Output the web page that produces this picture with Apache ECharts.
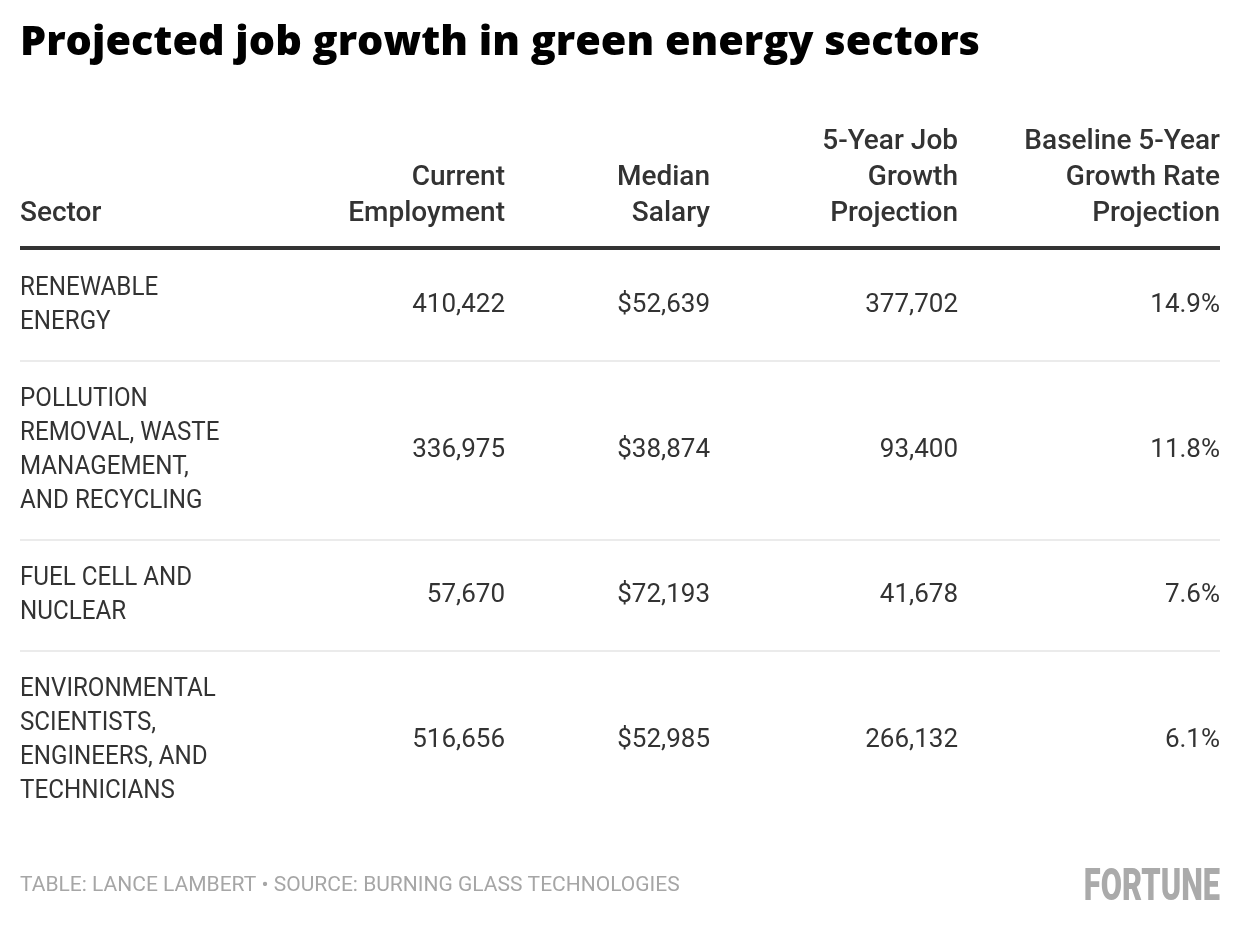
<!DOCTYPE html>
<html>
<head>
<meta charset="utf-8">
<script src="https://cdn.jsdelivr.net/npm/echarts@6/dist/echarts.min.js"></script>
<style>
  html, body { margin: 0; background: #fff; }
  #chart { width: 1240px; height: 926px; }
</style>
</head>
<body>
<div id="chart"></div>
<script>
// table data
const headers = ['Sector', 'Current\nEmployment', 'Median\nSalary', '5-Year Job\nGrowth\nProjection', 'Baseline 5-Year\nGrowth Rate\nProjection'];
const sectors = [
  'RENEWABLE\nENERGY',
  'POLLUTION\nREMOVAL, WASTE\nMANAGEMENT,\nAND RECYCLING',
  'FUEL CELL AND\nNUCLEAR',
  'ENVIRONMENTAL\nSCIENTISTS,\nENGINEERS, AND\nTECHNICIANS'
];
const employment = [410422, 336975, 57670, 516656];
const salary = [52639, 38874, 72193, 52985];
const jobGrowth = [377702, 93400, 41678, 266132];
const growthRate = [14.9, 11.8, 7.6, 6.1];

const titleText = 'Projected job growth in green energy sectors';
const footerText = 'TABLE: LANCE LAMBERT \u2022 SOURCE: BURNING GLASS TECHNOLOGIES';

// layout
const LEFT = 20, RIGHT = 1220;
const colRight = [null, 505, 710, 958, 1220];
const HEAD_RULE = 248;
const LINE_H = 34, PAD = 43;
const FONT = 'Roboto, "Noto Sans", sans-serif';

const fmt = v => v.toLocaleString('en-US');

// row positions follow the number of lines in each sector label
const rowTops = [], rowHeights = [];
let cursor = HEAD_RULE + 2;
sectors.forEach(s => {
  const h = s.split('\n').length * LINE_H + PAD;
  rowTops.push(cursor);
  rowHeights.push(h);
  cursor += h;
});

const bodyText = (text, x, y, align, sx) => ({
  type: 'text', x, y, scaleX: sx || 1,
  style: {
    text, align, verticalAlign: 'middle',
    fontFamily: FONT, fontSize: 26, fontWeight: 400,
    lineHeight: LINE_H, fill: '#333'
  }
});

const chart = echarts.init(document.getElementById('chart'));

const option = {
  animation: false,
  backgroundColor: '#fff',
  graphic: [
    {
      type: 'text', x: LEFT, y: 43, scaleX: 1.01,
      style: {
        text: titleText, align: 'left', verticalAlign: 'middle',
        fontFamily: '"Open Sans", Roboto, sans-serif', fontSize: 41, fontWeight: 800, fill: '#000'
      }
    },
    ...headers.map((h, j) => ({
      type: 'text',
      x: j === 0 ? LEFT : colRight[j],
      y: 232,
      style: {
        text: h, align: j === 0 ? 'left' : 'right', verticalAlign: 'bottom',
        fontFamily: FONT, fontSize: 28, fontWeight: 500, lineHeight: 36, fill: '#333'
      }
    })),
    {
      type: 'line',
      shape: { x1: LEFT, y1: HEAD_RULE, x2: RIGHT, y2: HEAD_RULE },
      style: { stroke: '#333', lineWidth: 4 }
    },
    {
      type: 'text', x: LEFT, y: 886,
      style: {
        text: footerText, align: 'left', verticalAlign: 'middle',
        fontFamily: FONT, fontSize: 21, fontWeight: 400, fill: '#a6a6a6'
      }
    },
    {
      type: 'text', x: RIGHT, y: 889, scaleX: 0.7,
      style: {
        text: 'FORTUNE', align: 'right', verticalAlign: 'middle',
        fontFamily: FONT, fontSize: 44, fontWeight: 900, fill: '#aaa'
      }
    }
  ],
  series: [{
    type: 'custom',
    coordinateSystem: 'none',
    data: sectors.map((_, i) => [i]),
    renderItem: (params) => {
      const i = params.dataIndex;
      const top = rowTops[i], h = rowHeights[i], mid = top + h / 2;
      const cells = [
        fmt(employment[i]),
        '$' + fmt(salary[i]),
        fmt(jobGrowth[i]),
        growthRate[i].toFixed(1) + '%'
      ];
      const children = [bodyText(sectors[i], LEFT, mid, 'left', 0.93)];
      cells.forEach((c, j) => children.push(bodyText(c, colRight[j + 1], mid, 'right')));
      if (i < sectors.length - 1) {
        children.push({
          type: 'line',
          shape: { x1: LEFT, y1: top + h, x2: RIGHT, y2: top + h },
          style: { stroke: '#ebebeb', lineWidth: 2 }
        });
      }
      return { type: 'group', children };
    }
  }]
};

chart.setOption(option);
</script>
</body>
</html>
